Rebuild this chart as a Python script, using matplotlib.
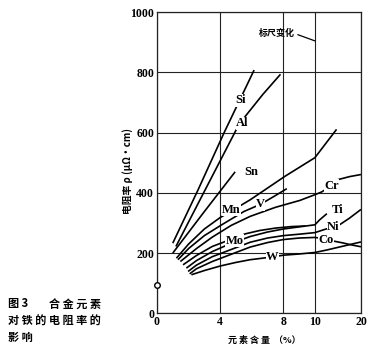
import matplotlib
matplotlib.use('Agg')
import matplotlib.pyplot as plt
import numpy as np

plt.rcParams['font.family'] = ['Liberation Serif', 'Noto Sans CJK SC', 'DejaVu Sans']

# element content (%) -> resistivity
si_x = [1.0, 2.6, 4.25, 6.15]
si_y = [233, 410, 600, 808]
al_x = [1.2, 3.0, 5.0, 5.6, 6.7, 7.82]
al_y = [222, 405, 608, 655, 727, 794]
sn_x = [1.0, 3.0, 4.95]
sn_y = [200, 338, 470]
mn_x = [1.23, 2.0, 3.0, 4.0, 4.72, 5.9, 8.1, 10, 14.7]
mn_y = [183, 230, 280, 318, 340, 377, 455, 517, 611]
v_x = [1.33, 2.0, 3.0, 4.1, 5.5, 6.55, 7.4, 8.22]
v_y = [178, 215, 258, 294, 338, 362, 388, 414]
cr_x = [1.48, 2.5, 3.5, 4.7, 5.9, 7.5, 9.05, 10, 11.45, 13.6, 15.0, 17.5, 20]
cr_y = [172, 215, 253, 292, 322, 352, 375, 394, 403, 424, 444, 454, 461]
mo_x = [1.65, 2.5, 3.5, 4.9, 5.6, 6.5, 7.5, 8.5, 9.4]
mo_y = [161, 192, 222, 250, 264, 275, 283, 288, 290]
ti_x = [1.86, 2.5, 3.5, 4.5, 5.9, 7.0, 8.0, 9.0, 10, 11.0, 12.6]
ti_y = [150, 175, 205, 228, 255, 270, 280, 287, 294, 310, 331]
ni_x = [1.97, 2.5, 3.5, 4.5, 5.9, 7.0, 8.0, 9.05, 10, 12.0, 14.0, 15.35, 17.5, 20]
ni_y = [139, 160, 188, 208, 236, 250, 258, 263, 268, 278, 287, 294, 316, 345]
co_x = [2.07, 2.5, 3.5, 4.5, 5.9, 7.0, 8.0, 9.0, 10, 11.0, 12.5, 14.0, 16.0, 18.0, 20]
co_y = [131, 148, 172, 192, 220, 235, 245, 250, 252, 250, 245, 240, 234, 227, 221]
w_x = [2.18, 3.0, 4.0, 5.0, 5.9, 7.3, 8.0, 9.0, 10, 12.5, 15, 17.5, 20]
w_y = [128, 142, 157, 169, 178, 187, 193, 197, 202, 210, 219, 228, 237]

fe_x = [0]
fe_y = [95]

series = [
    (si_x, si_y), (al_x, al_y), (sn_x, sn_y), (mn_x, mn_y), (v_x, v_y),
    (cr_x, cr_y), (mo_x, mo_y), (ti_x, ti_y), (ni_x, ni_y), (co_x, co_y),
    (w_x, w_y),
]

# label name, position, whether it sits on the line (needs a gap)
labels = [
    ('Si', 5.29, 708, True), ('Al', 5.4, 631, True), ('Sn', 5.55, 469, False),
    ('Mn', 4.72, 343, True), ('V', 6.55, 362, True), ('Cr', 13.6, 424, True),
    ('Ti', 14.85, 342, False), ('Ni', 14.0, 287, True), ('Mo', 4.93, 241, True),
    ('Co', 12.3, 244, True), ('W', 7.3, 187, True),
]

x_ticks = [0, 4, 8, 10, 20]
y_ticks = [0, 200, 400, 600, 800, 1000]


# the x scale is squeezed above 10 %
def fwd(x):
    x = np.asarray(x, dtype=float)
    return np.where(x <= 10, x, 10 + (x - 10) * 0.2917)


def inv(u):
    u = np.asarray(u, dtype=float)
    return np.where(u <= 10, u, 10 + (u - 10) / 0.2917)


fig = plt.figure(figsize=(3.77, 3.53), dpi=100)
ax = fig.add_axes([0.4164, 0.1125, 0.5411, 0.8527])
ax.set_xscale('function', functions=(fwd, inv))
ax.set_xlim(0, 20)
ax.set_ylim(0, 1000)

ax.set_xticks(x_ticks)
ax.set_xticklabels([str(t) for t in x_ticks])
ax.set_yticks(y_ticks)
ax.set_yticklabels([str(t) for t in y_ticks])
ax.tick_params(length=0, pad=2, labelsize=8.5)
for lab in ax.get_xticklabels() + ax.get_yticklabels():
    lab.set_fontweight('bold')
ax.minorticks_off()

ax.grid(True, color='#222222', linewidth=0.8)
for s in ax.spines.values():
    s.set_linewidth(0.9)
    s.set_color('#222222')

for xs, ys in series:
    ax.plot(xs, ys, color='black', linewidth=1.2, solid_capstyle='butt')

ax.plot(fe_x, fe_y, 'o', mfc='white', mec='black', ms=4, mew=1, clip_on=False, zorder=5)

for name, lx, ly, on_line in labels:
    kw = dict(ha='center', va='center', fontsize=9, fontweight='bold')
    if on_line:
        kw['bbox'] = dict(fc='white', ec='none', pad=0.3)
    else:
        kw['ha'] = 'left' if name == 'Sn' else 'center'
    ax.text(lx, ly, name, **kw)

ax.annotate('标尺变化', xy=(10, 905), xytext=(7.6, 929), ha='center', va='center',
            fontsize=6.5, fontweight='bold', family=['Noto Sans CJK SC', 'DejaVu Sans'],
            arrowprops=dict(arrowstyle='-', color='black', lw=0.9, shrinkA=0, shrinkB=0,
                            relpos=(1.0, 0.5)))

cjk = ['Noto Sans CJK SC', 'DejaVu Sans']
fig.text(127.5 / 377, 1 - 171 / 353, '电阻率 ρ (μΩ·cm)', rotation=90, ha='center', va='center',
         fontsize=7, fontweight='bold', family=cjk)
fig.text(264 / 377, 1 - 340 / 353, '元 素 含 量  （%）', ha='center', va='center',
         fontsize=6.5, fontweight='bold', family=cjk)

fig.text(8 / 377, 1 - 304 / 353, '图 3', ha='left', va='center', fontsize=8,
         fontweight='bold', family=cjk)
fig.text(101 / 377, 1 - 304 / 353, '合 金 元 素', ha='right', va='center', fontsize=8,
         fontweight='bold', family=cjk)
fig.text(8 / 377, 1 - 321 / 353, '对 铁 的 电 阻 率 的', ha='left', va='center', fontsize=8,
         fontweight='bold', family=cjk)
fig.text(8 / 377, 1 - 337 / 353, '影 响', ha='left', va='center', fontsize=8,
         fontweight='bold', family=cjk)

fig.savefig('out.png', dpi=100)
